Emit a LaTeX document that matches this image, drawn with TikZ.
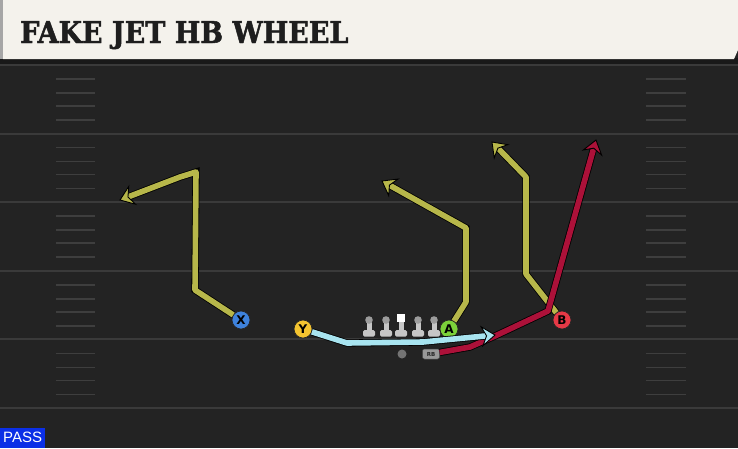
\documentclass[tikz,border=0pt]{standalone}
\usepackage{fontspec}
\setmainfont{DejaVu Serif}
\newfontfamily\titlefont{DejaVu Serif Condensed}[BoldFeatures={FakeBold=1.6}]
\newfontfamily\passfont{Liberation Sans}
\newfontfamily\letterfont{DejaVu Sans}
\usepackage{xcolor}
\usepackage{tikz}
\usetikzlibrary{calc}

\definecolor{fieldbg}{HTML}{232323}
\definecolor{fieldline}{HTML}{3A3A3A}
\definecolor{hashline}{HTML}{3E3E3E}
\definecolor{titlebg}{HTML}{F4F2EC}
\definecolor{titletext}{HTML}{1E1E1E}
\definecolor{olive}{HTML}{B7B74A}
\definecolor{crimson}{HTML}{AC1139}
\definecolor{icy}{HTML}{A8E4F0}
\definecolor{xblue}{HTML}{3E82DC}
\definecolor{yyellow}{HTML}{F4C430}
\definecolor{agreen}{HTML}{7CD23A}
\definecolor{bred}{HTML}{E63946}
\definecolor{passblue}{HTML}{0B2FE6}
\definecolor{linegray}{HTML}{C6C6C6}
\definecolor{headgray}{HTML}{9C9C9C}

\tikzset{
	route/.style={#1, line width=5.6pt, line join=round, preaction={draw=black, line width=7.2pt}},
	routetip/.style={black, fill=#1, line width=0.9pt, line join=miter},
	player/.style={circle, draw=black!85, line width=0.7pt, minimum size=18pt, inner sep=0pt,
		text=black, font=\letterfont\bfseries\fontsize{12}{12}\selectfont},
}
% chevron tip drawn at the end of a route: #1 colour, #2 point before the end, #3 end
\newcommand\chevron[3]{%
	\draw[routetip=#1] let \p1=($(#3)-(#2)$), \n1={atan2(\y1,\x1)} in
		[shift={(#3)}, rotate=\n1]
		(0,0) -- (-13,9.5) -- (-8.5,0) -- (-13,-9.5) -- cycle;
}

\begin{document}
\begin{tikzpicture}[x=1pt,y=-1pt]
	\useasboundingbox (0,0) rectangle (738,448);
	\fill[fieldbg] (0,0) rectangle (738,448);
	% yard lines and hash marks
	\foreach \k in {0,...,5}{
		\draw[fieldline, line width=2pt] (0,65+68.6*\k) -- (738,65+68.6*\k);
	}
	\foreach \k in {0,...,4}{
		\foreach \d in {14,28,41,55} {
			\draw[hashline, line width=1.5pt] (56,65+68.6*\k+\d) -- (95,65+68.6*\k+\d);
			\draw[hashline, line width=1.5pt] (646,65+68.6*\k+\d) -- (686,65+68.6*\k+\d);
	}}
	% title bar
	\fill[black!90] (0,58) rectangle (738,64);
	\fill[black!35] (0,0) rectangle (4,59);
	\fill[titlebg] (3,0) -- (738,0) -- (738,50) -- (734,59) -- (3,59) -- cycle;
	\node[anchor=base west, inner sep=0pt, text=titletext, font=\titlefont\bfseries\fontsize{30}{30}\selectfont] (title) at (20,43) {FAKE JET HB WHEEL};
	% linemen
	\foreach \lx in {369,386,418,434}{
		\fill[linegray] (\lx-2.5,321) rectangle (\lx+2.5,331);
		\fill[linegray, rounded corners=1.5pt] (\lx-6,330) rectangle (\lx+6,336.5);
		\fill[headgray] (\lx,320) circle (3.8);
	}
	\fill[linegray] (398.5,321) rectangle (403.5,331);
	\fill[linegray, rounded corners=1.5pt] (395,330) rectangle (407,336.5);
	\fill[white] (397,314) rectangle (405,322);
	% players
	\node[player, fill=xblue] (X) at (241,320) {X};
	\node[player, fill=yyellow] (Y) at (303,329) {Y};
	\node[player, fill=agreen] (A) at (449,329) {A};
	\node[player, fill=bred] (B) at (562,320) {B};
	\node[circle, fill=black!55, minimum size=9pt, inner sep=0pt] (qb) at (402,354) {};
	\node[rounded corners=2pt, fill=black!40, draw=black!70, line width=0.5pt, minimum width=17pt, minimum height=10pt, inner sep=0pt,
		text=black!85, font=\letterfont\bfseries\fontsize{5.5}{5.5}\selectfont] (rb) at (431,354) {RB};
	% route bends and ends
	\coordinate (xbend) at (180,177);
	\coordinate (xend) at (120,200);
	\coordinate (abend) at (466,228);
	\coordinate (aend) at (382,181);
	\coordinate (bbend) at (526,177);
	\coordinate (bend) at (492,142);
	\coordinate (rbbend) at (548,311);
	\coordinate (rbend) at (596,140);
	\coordinate (ybend) at (423,342);
	\coordinate (yend) at (495,335);
	% routes
	\draw[route=olive] (X) -- (195,290) -- (196,172) -- (xbend) -- ($(xend)!8pt!(xbend)$);
	\chevron{olive}{xbend}{xend}
	\draw[route=olive] (A) -- (466,302) -- (abend) -- ($(aend)!8pt!(abend)$);
	\chevron{olive}{abend}{aend}
	\draw[route=olive] (B) -- (526,274) -- (bbend) -- ($(bend)!8pt!(bbend)$);
	\chevron{olive}{bbend}{bend}
	\draw[route=crimson] (rb) -- (470,347) -- (495,336) -- (rbbend) -- ($(rbend)!8pt!(rbbend)$);
	\chevron{crimson}{rbbend}{rbend}
	\draw[route=icy] (Y) -- (347,343) -- (ybend) -- ($(yend)!8pt!(ybend)$);
	\chevron{icy}{ybend}{yend}
	% play type
	\node[fill=passblue, text=white, anchor=south west, minimum width=45pt, minimum height=20pt, inner sep=0pt,
		font=\passfont\fontsize{15}{15}\selectfont] (pass) at (0,448) {PASS};
\end{tikzpicture}
\end{document}
